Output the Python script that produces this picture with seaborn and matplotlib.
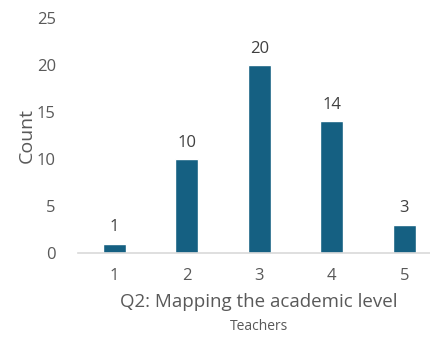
import matplotlib
matplotlib.use("Agg")
import matplotlib.pyplot as plt
import seaborn as sns
import pandas as pd

categories = ["1", "2", "3", "4", "5"]
counts = [1, 10, 20, 14, 3]
y_ticks = [0, 5, 10, 15, 20, 25]

sns.set_theme(style="white")
plt.rcParams['font.family'] = ['Open Sans', 'DejaVu Sans']

df = pd.DataFrame({"level": categories, "count": counts})

fig = plt.figure(figsize=(4.31, 3.38), dpi=100)
ax = fig.add_axes([78/431, 1-253/338, 362.5/431, (253-18)/338])

sns.barplot(data=df, x="level", y="count", color="#156082", width=0.32,
            saturation=1, ax=ax)
for c in ax.containers:
    ax.bar_label(c, padding=6, fontsize=12, color="#404040")

ax.set_xlim(-0.5, 4.5)
ax.set_ylim(0, 25)
ax.set_yticks(y_ticks)
for s in ["top", "right", "left"]:
    ax.spines[s].set_visible(False)
ax.spines["bottom"].set_color("#d9d9d9")
ax.spines["bottom"].set_linewidth(1.2)
ax.tick_params(axis="both", length=0, labelsize=12, labelcolor="#595959")
ax.tick_params(axis="x", pad=11)
ax.tick_params(axis="y", pad=16)
ax.set_ylabel("Count", fontsize=14, color="#595959", labelpad=1)
ax.set_xlabel("Q2: Mapping the academic level", fontsize=13.5, color="#595959", labelpad=6)
fig.text(259/431, 1-327/338, "Teachers", fontsize=10, color="#595959",
         ha="center", va="center")

fig.savefig("out.png", dpi=100)
